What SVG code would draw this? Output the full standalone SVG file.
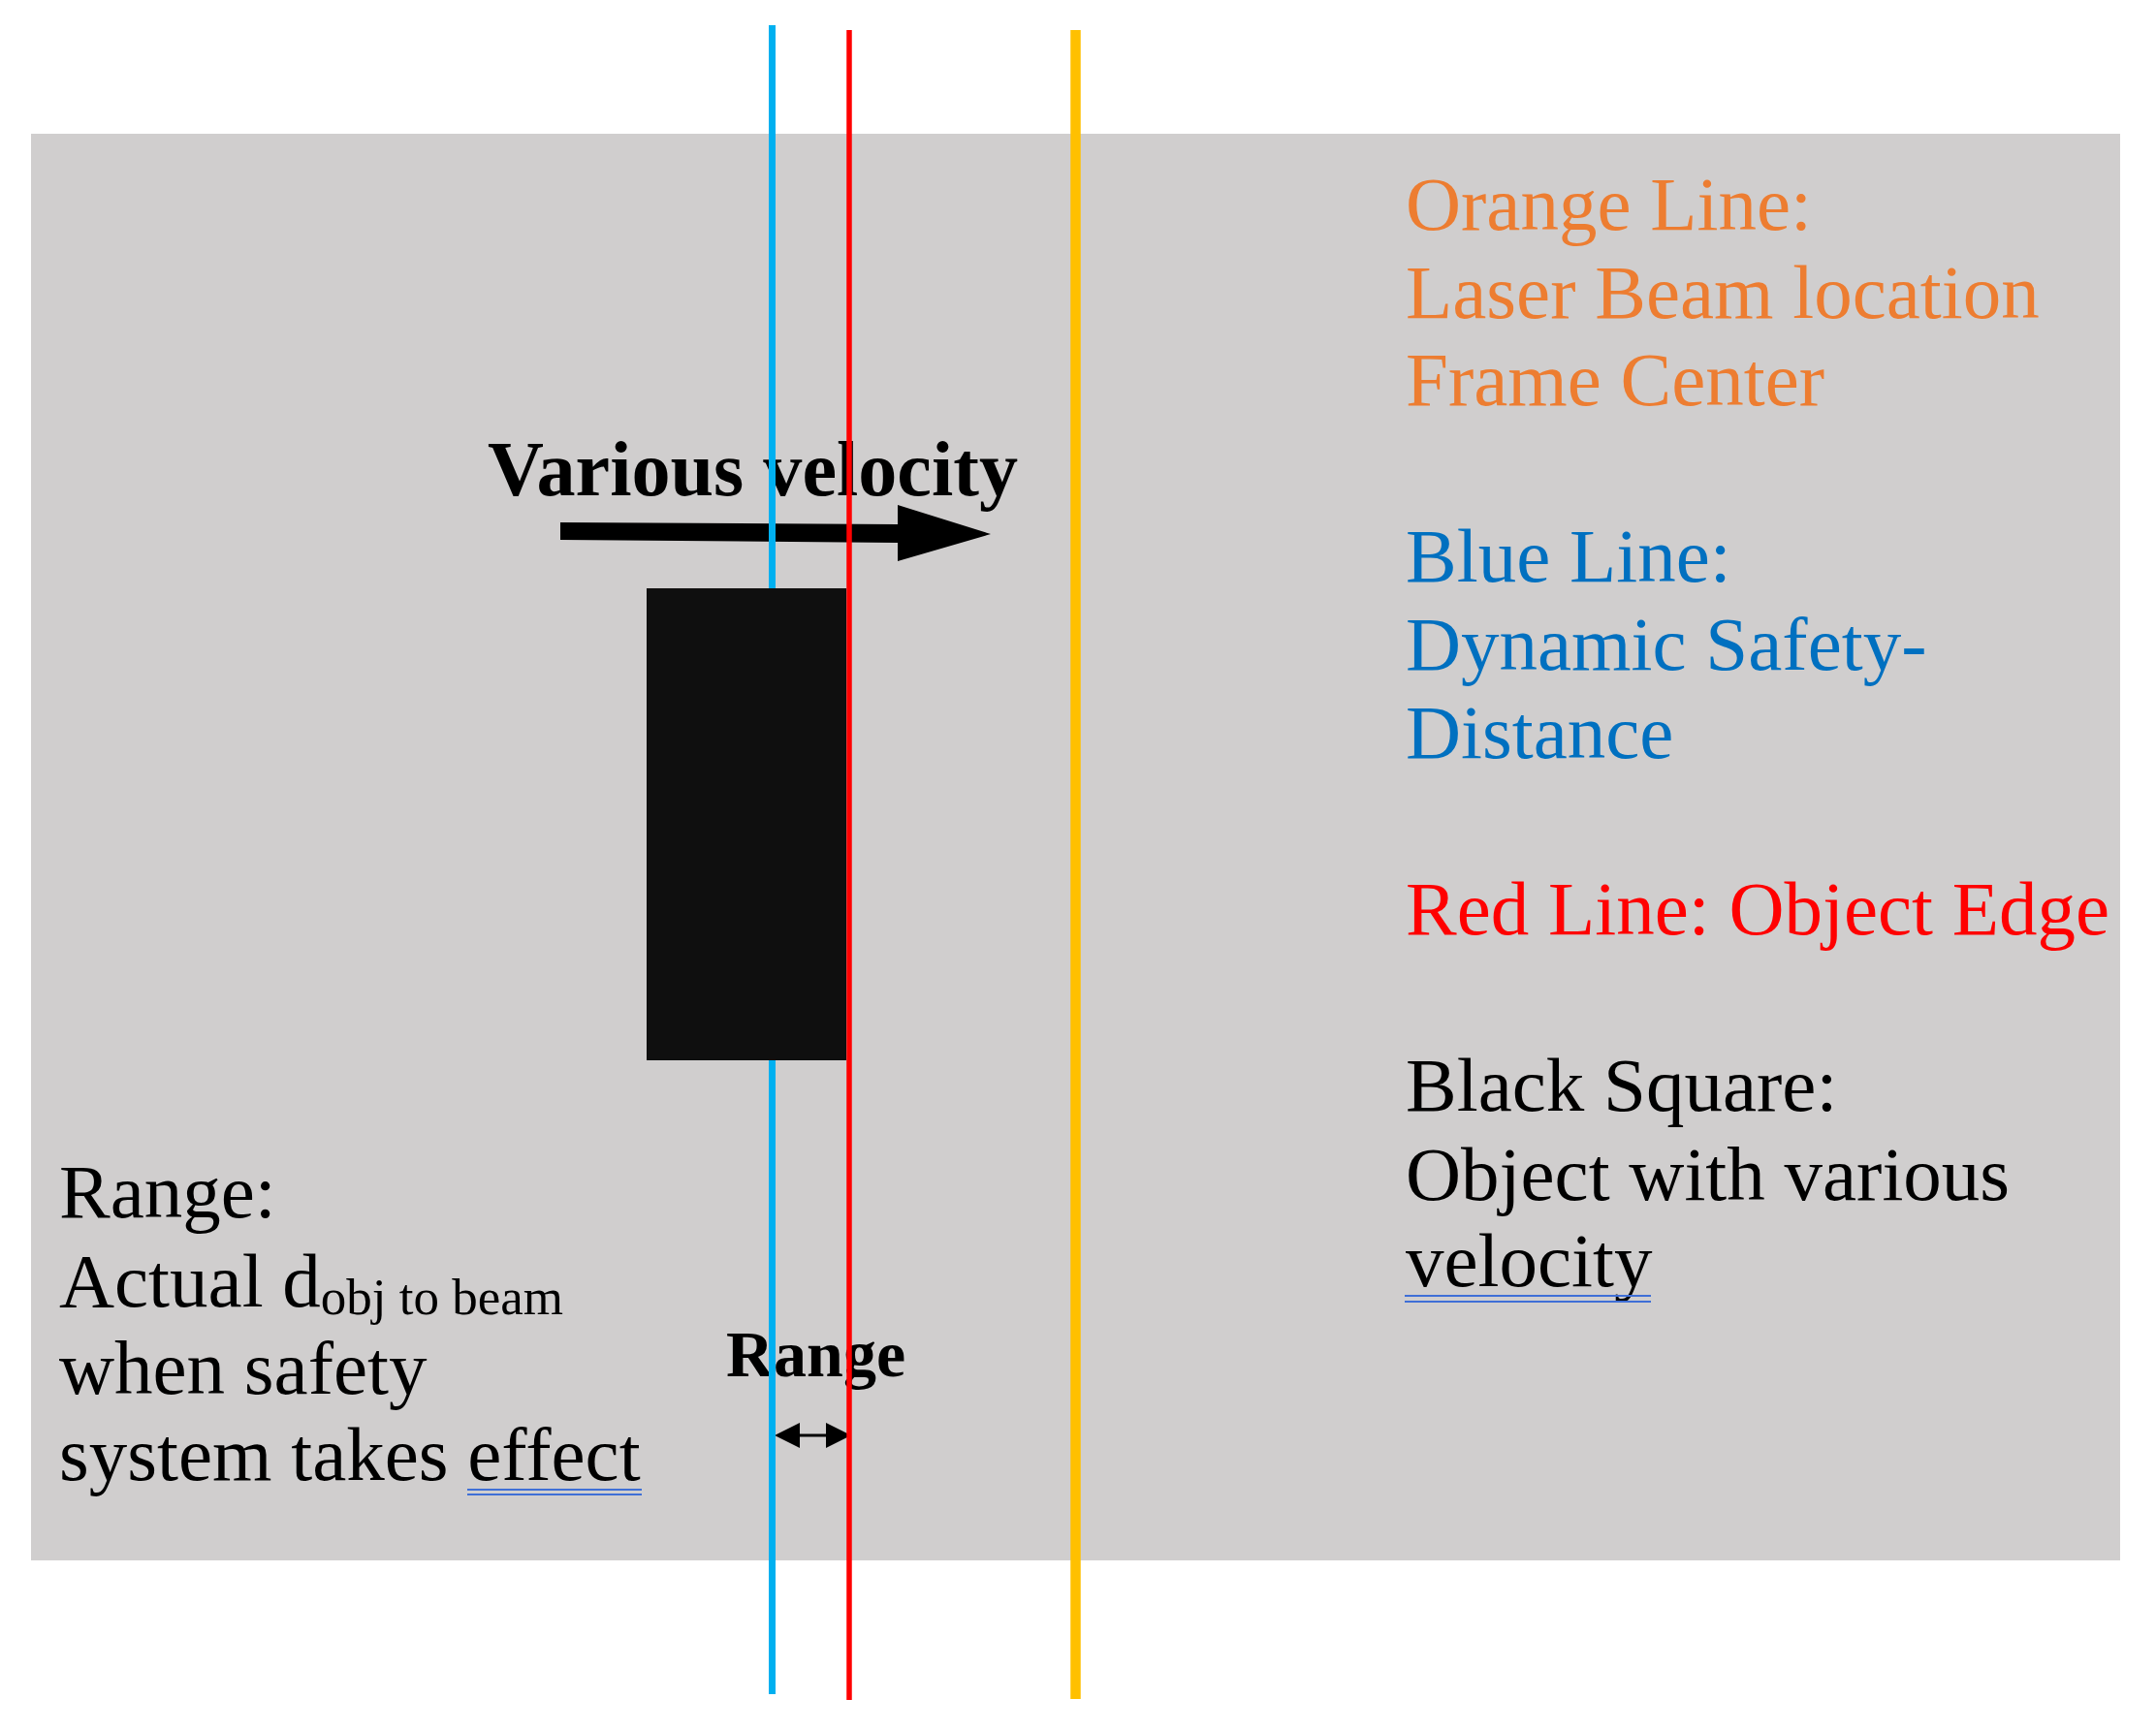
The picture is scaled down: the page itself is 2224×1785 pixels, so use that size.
<svg xmlns="http://www.w3.org/2000/svg" width="2224" height="1785" viewBox="0 0 2224 1785">
<style>
.t{font-family:"Liberation Serif","Times New Roman",serif;font-size:79px}
.b{font-family:"Liberation Serif","Times New Roman",serif;font-weight:bold}
.or{fill:#ED7D31}
.bl{fill:#0070C0}
.rd{fill:#FF0000}
.bk{fill:#000000}
.ul{stroke:#3F6FD6;stroke-width:2.2;fill:none}
</style>
<rect x="0" y="0" width="2224" height="1785" fill="#FFFFFF"/>
<rect id="background" x="32" y="138" width="2155" height="1472" fill="#D0CECE"/>

<g id="legend-orange">
<text class="t or" x="1450" y="237">Orange Line:</text>
<text class="t or" x="1450" y="328">Laser Beam location</text>
<text class="t or" x="1450" y="418">Frame Center</text>
</g>
<g id="legend-blue">
<text class="t bl" x="1450" y="600">Blue Line:</text>
<text class="t bl" x="1450" y="691">Dynamic Safety-</text>
<text class="t bl" x="1450" y="782">Distance</text>
</g>
<g id="legend-red">
<text class="t rd" x="1450" y="964">Red Line: Object Edge</text>
</g>
<g id="legend-black">
<text class="t bk" x="1450" y="1146">Black Square:</text>
<text class="t bk" x="1450" y="1238">Object with various</text>
<text class="t bk" x="1450" y="1327">velocity</text>
<line class="ul" x1="1449" y1="1337" x2="1703" y2="1337"/>
<line class="ul" x1="1449" y1="1343" x2="1703" y2="1343"/>
</g>
<g id="range-note">
<text class="t bk" x="61" y="1256">Range:</text>
<text class="t bk" x="61" y="1348">Actual d<tspan font-size="53" dy="8">obj to beam</tspan></text>
<text class="t bk" x="61" y="1438">when safety</text>
<text class="t bk" x="61" y="1527">system takes effect</text>
<line class="ul" x1="482" y1="1537" x2="662" y2="1537"/>
<line class="ul" x1="482" y1="1542" x2="662" y2="1542"/>
</g>
<g id="velocity-label">
<text class="b bk" x="503" y="511" font-size="80" textLength="547" lengthAdjust="spacingAndGlyphs">Various velocity</text>
</g>
<g id="range-label">
<text class="b bk" x="749" y="1420" font-size="68">Range</text>
</g>

<g id="connectors">
<polygon id="velocity-arrow" points="578,539 926,541 926,521 1022,551 926,579 926,560 578,557" fill="#000000"/>
<g id="range-arrow">
<line x1="820" y1="1481" x2="858" y2="1481" stroke="#000000" stroke-width="3"/>
<polygon points="799,1481 825,1468 825,1494" fill="#000000"/>
<polygon points="878,1481 852,1468 852,1494" fill="#000000"/>
</g>
</g>

<g id="blue-line">
<line x1="796.5" y1="26" x2="796.5" y2="1748" stroke="#00B0F0" stroke-width="7"/>
</g>
<g id="object">
<rect x="667" y="607" width="206" height="487" fill="#0F0F0F"/>
</g>
<g id="red-line">
<line x1="876" y1="31" x2="876" y2="1754" stroke="#FF0000" stroke-width="5.5"/>
</g>
<g id="orange-line">
<line x1="1109.5" y1="31" x2="1109.5" y2="1753" stroke="#FFC000" stroke-width="10.5"/>
</g>
</svg>
